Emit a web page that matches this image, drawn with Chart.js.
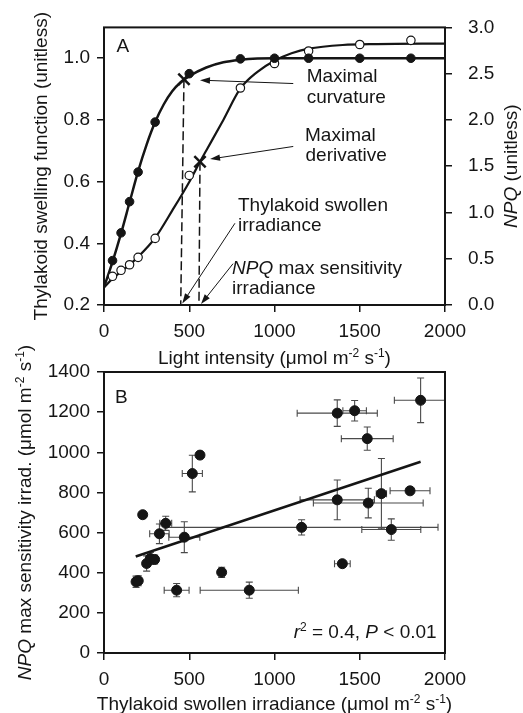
<!DOCTYPE html>
<html>
<head>
<meta charset="utf-8">
<script src="https://cdn.jsdelivr.net/npm/chart.js@4.4.1/dist/chart.umd.min.js"></script>
<style>
  body { margin: 0; background: #fff; }
  canvas { position: absolute; left: 0; }
  #panelA { top: 0; }
  #panelB { top: 330px; }
</style>
</head>
<body>
<canvas id="panelA" width="523" height="372"></canvas>
<canvas id="panelB" width="523" height="383"></canvas>
<script>
// ---- panel A: swelling function and NPQ vs light ----
const lightLevels = [50, 100, 150, 200, 300, 500, 800, 1000, 1200, 1500, 1800];
const swelling    = [0.344, 0.434, 0.535, 0.631, 0.793, 0.95, 0.998, 1.0, 1.0, 1.0, 1.0];
const npq         = [0.31, 0.375, 0.435, 0.515, 0.72, 1.40, 2.345, 2.61, 2.745, 2.815, 2.86];

// fitted curves
const swellFitX = [0, 50, 100, 150, 200, 250, 300, 350, 400, 450, 500, 600, 700, 800, 900, 1000, 2000];
const swellFitY = [0.258, 0.34, 0.432, 0.533, 0.633, 0.72, 0.793, 0.85, 0.893, 0.922, 0.942, 0.97, 0.987, 0.995, 0.999, 1.0, 1.0];
const npqFitX = [0, 50, 100, 150, 200, 250, 300, 400, 500, 563, 600, 700, 800, 900, 1000, 1100, 1200, 1400, 1600, 2000];
const npqFitY = [0.19, 0.285, 0.36, 0.435, 0.52, 0.615, 0.725, 1.02, 1.33, 1.548, 1.67, 2.0, 2.34, 2.52, 2.64, 2.72, 2.77, 2.81, 2.82, 2.825];

const curvaturePt  = [{x: 469, y: 0.932}];
const derivativePt = [{x: 563, y: 1.548}];

const xTicksA     = [0, 500, 1000, 1500, 2000];
const swellTicks  = [0.2, 0.4, 0.6, 0.8, 1.0];
const npqTicks    = [0, 0.5, 1.0, 1.5, 2.0, 2.5, 3.0];

// ---- panel B: NPQ max sensitivity vs swollen irradiance ----
const swollenIrr = [188, 201, 227, 250, 272, 297, 325, 362, 471, 518, 563, 426, 690, 852, 1159, 1368, 1470, 1544, 1857, 1368, 1550, 1627, 1795, 1685, 1398];
const npqSensIrr = [355, 360, 689, 446, 471, 466, 594, 646, 577, 894, 986, 313, 402, 313, 626, 1195, 1207, 1068, 1259, 763, 747, 794, 808, 615, 445];
const swollenErr = [0, 0, 0, 0, 25, 0, 57, 35, 91, 59, 0, 73, 0, 288, 800, 235, 69, 152, 154, 218, 322, 30, 117, 173, 46];
const npqSensErr = [28, 25, 0, 38, 30, 22, 49, 35, 77, 91, 15, 33, 25, 40, 38, 66, 51, 58, 111, 99, 74, 175, 0, 53, 10];
const fitLineX = [186, 1857];
const fitLineY = [481, 953];

const xTicksB = [0, 500, 1000, 1500, 2000];
const yTicksB = [0, 200, 400, 600, 800, 1000, 1200, 1400];

const INK = '#151515';
const FONT = "'Liberation Sans', Arial, Helvetica, sans-serif";
Chart.defaults.font.family = FONT;
Chart.defaults.font.size = 19;
Chart.defaults.color = INK;

const pts = (xs, ys) => xs.map((v, i) => ({x: v, y: ys[i]}));
const fixedTicks = arr => s => { s.ticks = arr.map(v => ({value: v})); };
const tickGrid = {drawOnChartArea: false, drawTicks: true, tickLength: 7, color: INK, lineWidth: 1.5};

// draws text made of plain / italic / superscript pieces, (x,y) is the baseline anchor
function richText(ctx, parts, x, y, rot, align) {
  const fontOf = s => s === 'i' ? 'italic 19px ' + FONT : (s === 'sup' ? '12px ' + FONT : '19px ' + FONT);
  ctx.save();
  ctx.translate(x, y);
  ctx.rotate(rot || 0);
  let w = 0;
  parts.forEach(p => { ctx.font = fontOf(p[1]); w += ctx.measureText(p[0]).width; });
  let cx = align === 'center' ? -w / 2 : (align === 'right' ? -w : 0);
  ctx.textAlign = 'left';
  ctx.textBaseline = 'alphabetic';
  ctx.fillStyle = INK;
  parts.forEach(p => {
    ctx.font = fontOf(p[1]);
    ctx.fillText(p[0], cx, p[1] === 'sup' ? -7 : 0);
    cx += ctx.measureText(p[0]).width;
  });
  ctx.restore();
}

function arrow(ctx, x1, y1, x2, y2) {
  const a = Math.atan2(y2 - y1, x2 - x1), L = 10, W = 3.2;
  ctx.beginPath();
  ctx.moveTo(x1, y1);
  ctx.lineTo(x2 - L * 0.8 * Math.cos(a), y2 - L * 0.8 * Math.sin(a));
  ctx.stroke();
  ctx.beginPath();
  ctx.moveTo(x2, y2);
  ctx.lineTo(x2 - L * Math.cos(a) + W * Math.sin(a), y2 - L * Math.sin(a) - W * Math.cos(a));
  ctx.lineTo(x2 - L * Math.cos(a) - W * Math.sin(a), y2 - L * Math.sin(a) + W * Math.cos(a));
  ctx.closePath();
  ctx.fill();
}

function frame(ctx, ca) {
  ctx.save();
  ctx.strokeStyle = INK;
  ctx.lineWidth = 2;
  ctx.strokeRect(ca.left, ca.top, ca.right - ca.left, ca.bottom - ca.top);
  ctx.restore();
}

// annotation placement for panel A, in data units of the left axis
const dashesA = [
  {x1: 469, y1: 0.932, x2: 450, y2: 0.2, axis: 'y'},
  {x1: 563, y1: 1.548, x2: 557, y2: 0.0, axis: 'y2'}
];
const arrowsA = [
  {x1: 1110, y1: 0.918, x2: 563, y2: 0.929},
  {x1: 1110, y1: 0.714, x2: 622, y2: 0.673},
  {x1: 768, y1: 0.465, x2: 459, y2: 0.205},
  {x1: 757, y1: 0.334, x2: 569, y2: 0.203}
];
const notesA = [
  {parts: [['Maximal', '']], x: 1189, y: 0.9234},
  {parts: [['curvature', '']], x: 1189, y: 0.8564},
  {parts: [['Maximal', '']], x: 1179, y: 0.7319},
  {parts: [['derivative', '']], x: 1182, y: 0.6681},
  {parts: [['Thylakoid swollen', '']], x: 786, y: 0.5054},
  {parts: [['irradiance', '']], x: 786, y: 0.4393},
  {parts: [['NPQ', 'i'], [' max sensitivity', '']], x: 751, y: 0.2989},
  {parts: [['irradiance', '']], x: 751, y: 0.2351},
  {parts: [['A', '']], x: 74, y: 1.019}
];

const annotA = {
  id: 'annotA',
  afterDraw(chart) {
    const {ctx, chartArea: ca, scales} = chart;
    const sx = scales.x;
    frame(ctx, ca);
    ctx.save();
    ctx.strokeStyle = INK;
    ctx.lineWidth = 1.5;
    ctx.setLineDash([9, 4]);
    dashesA.forEach(d => {
      const sy = scales[d.axis];
      ctx.beginPath();
      ctx.moveTo(sx.getPixelForValue(d.x1), sy.getPixelForValue(d.y1));
      ctx.lineTo(sx.getPixelForValue(d.x2), sy.getPixelForValue(d.y2));
      ctx.stroke();
    });
    ctx.setLineDash([]);
    ctx.lineWidth = 1;
    ctx.fillStyle = INK;
    arrowsA.forEach(a => arrow(ctx,
      sx.getPixelForValue(a.x1), scales.y.getPixelForValue(a.y1),
      sx.getPixelForValue(a.x2), scales.y.getPixelForValue(a.y2)));
    ctx.restore();
    notesA.forEach(n => richText(ctx, n.parts, sx.getPixelForValue(n.x), scales.y.getPixelForValue(n.y), 0, 'left'));

    const midY = (ca.top + ca.bottom) / 2;
    const midX = (ca.left + ca.right) / 2;
    richText(ctx, [['Thylakoid swelling function (unitless)', '']], 47, midY, -Math.PI / 2, 'center');
    richText(ctx, [['NPQ', 'i'], [' (unitless)', '']], 517, midY, -Math.PI / 2, 'center');
    richText(ctx, [['Light intensity (\u03bcmol m', ''], ['-2', 'sup'], [' s', ''], ['-1', 'sup'], [')', '']], midX, 364, 0, 'center');
  }
};

new Chart(document.getElementById('panelA'), {
  type: 'scatter',
  data: {
    datasets: [
      {data: pts(lightLevels, swelling), yAxisID: 'y', pointRadius: 4.3,
       pointBackgroundColor: INK, pointBorderColor: INK, pointBorderWidth: 1, order: 1},
      {data: pts(lightLevels, npq), yAxisID: 'y2', pointRadius: 4.2,
       pointBackgroundColor: '#fff', pointBorderColor: INK, pointBorderWidth: 1.2, order: 1},
      {data: curvaturePt, yAxisID: 'y', pointStyle: 'crossRot', pointRadius: 8,
       pointBorderWidth: 2.5, pointBorderColor: INK, order: 0},
      {data: derivativePt, yAxisID: 'y2', pointStyle: 'crossRot', pointRadius: 8,
       pointBorderWidth: 2.5, pointBorderColor: INK, order: 0},
      {data: pts(swellFitX, swellFitY), yAxisID: 'y', showLine: true, pointRadius: 0,
       borderColor: INK, borderWidth: 2.5, cubicInterpolationMode: 'monotone', order: 3},
      {data: pts(npqFitX, npqFitY), yAxisID: 'y2', showLine: true, pointRadius: 0,
       borderColor: INK, borderWidth: 2.2, cubicInterpolationMode: 'monotone', order: 3}
    ]
  },
  options: {
    responsive: false,
    animation: false,
    events: [],
    layout: {padding: {top: 23, left: 0, right: 0, bottom: 0}},
    plugins: {legend: {display: false}, tooltip: {enabled: false}},
    scales: {
      x: {
        type: 'linear', min: 0, max: 2000,
        afterBuildTicks: fixedTicks(xTicksA),
        afterFit: s => { s.height = 67; },
        ticks: {padding: 8, maxRotation: 0, callback: v => String(v)},
        grid: tickGrid, border: {display: false}
      },
      y: {
        type: 'linear', position: 'left', min: 0.2, max: 1.1,
        afterBuildTicks: fixedTicks(swellTicks),
        afterFit: s => { s.width = 104; },
        ticks: {padding: 7, callback: v => v.toFixed(1)},
        grid: tickGrid, border: {display: false}
      },
      y2: {
        type: 'linear', position: 'right', min: 0, max: 3,
        afterBuildTicks: fixedTicks(npqTicks),
        afterFit: s => { s.width = 78; },
        ticks: {padding: 16, callback: v => v.toFixed(1)},
        grid: tickGrid, border: {display: false}
      }
    }
  },
  plugins: [annotA]
});

// ---- panel B ----
const errorBarsB = {
  id: 'errorBarsB',
  beforeDatasetsDraw(chart) {
    const {ctx, chartArea: ca, scales: {x, y}} = chart;
    ctx.save();
    ctx.beginPath();
    ctx.rect(ca.left, ca.top, ca.right - ca.left, ca.bottom - ca.top);
    ctx.clip();
    ctx.strokeStyle = '#4a4a4a';
    ctx.lineWidth = 1.1;
    const cap = 3.5;
    swollenIrr.forEach((xv, i) => {
      const px = x.getPixelForValue(xv), py = y.getPixelForValue(npqSensIrr[i]);
      if (swollenErr[i] > 0) {
        const a = x.getPixelForValue(xv - swollenErr[i]), b = x.getPixelForValue(xv + swollenErr[i]);
        ctx.beginPath();
        ctx.moveTo(a, py); ctx.lineTo(b, py);
        ctx.moveTo(a, py - cap); ctx.lineTo(a, py + cap);
        ctx.moveTo(b, py - cap); ctx.lineTo(b, py + cap);
        ctx.stroke();
      }
      if (npqSensErr[i] > 0) {
        const a = y.getPixelForValue(npqSensIrr[i] - npqSensErr[i]), b = y.getPixelForValue(npqSensIrr[i] + npqSensErr[i]);
        ctx.beginPath();
        ctx.moveTo(px, a); ctx.lineTo(px, b);
        ctx.moveTo(px - cap, a); ctx.lineTo(px + cap, a);
        ctx.moveTo(px - cap, b); ctx.lineTo(px + cap, b);
        ctx.stroke();
      }
    });
    ctx.restore();
  },
  afterDraw(chart) {
    const {ctx, chartArea: ca, scales: {x, y}} = chart;
    frame(ctx, ca);
    richText(ctx, [['B', '']], x.getPixelForValue(65), y.getPixelForValue(1244), 0, 'left');
    richText(ctx, [['r', 'i'], ['2', 'sup'], [' = 0.4, ', ''], ['P', 'i'], [' < 0.01', '']],
      x.getPixelForValue(1951), y.getPixelForValue(74), 0, 'right');
    const midY = (ca.top + ca.bottom) / 2;
    const midX = (ca.left + ca.right) / 2;
    richText(ctx, [['NPQ', 'i'], [' max sensitivity irrad. (\u03bcmol m', ''], ['-2', 'sup'], [' s', ''], ['-1', 'sup'], [')', '']],
      30.5, midY, -Math.PI / 2, 'center');
    richText(ctx, [['Thylakoid swollen irradiance (\u03bcmol m', ''], ['-2', 'sup'], [' s', ''], ['-1', 'sup'], [')', '']],
      midX, 380, 0, 'center');
  }
};

new Chart(document.getElementById('panelB'), {
  type: 'scatter',
  data: {
    datasets: [
      {data: pts(swollenIrr, npqSensIrr), pointRadius: 5, pointBackgroundColor: INK,
       pointBorderColor: INK, pointBorderWidth: 1, order: 0},
      {data: pts(fitLineX, fitLineY), showLine: true, pointRadius: 0,
       borderColor: INK, borderWidth: 2.5, order: 1}
    ]
  },
  options: {
    responsive: false,
    animation: false,
    events: [],
    layout: {padding: {top: 42, left: 0, right: 78, bottom: 0}},
    plugins: {legend: {display: false}, tooltip: {enabled: false}},
    scales: {
      x: {
        type: 'linear', min: 0, max: 2000,
        afterBuildTicks: fixedTicks(xTicksB),
        afterFit: s => { s.height = 60; },
        ticks: {padding: 8, maxRotation: 0, callback: v => String(v)},
        grid: tickGrid, border: {display: false}
      },
      y: {
        type: 'linear', position: 'left', min: 0, max: 1400,
        afterBuildTicks: fixedTicks(yTicksB),
        afterFit: s => { s.width = 104; },
        ticks: {padding: 7, callback: v => String(v)},
        grid: tickGrid, border: {display: false}
      }
    }
  },
  plugins: [errorBarsB]
});
</script>
</body>
</html>
